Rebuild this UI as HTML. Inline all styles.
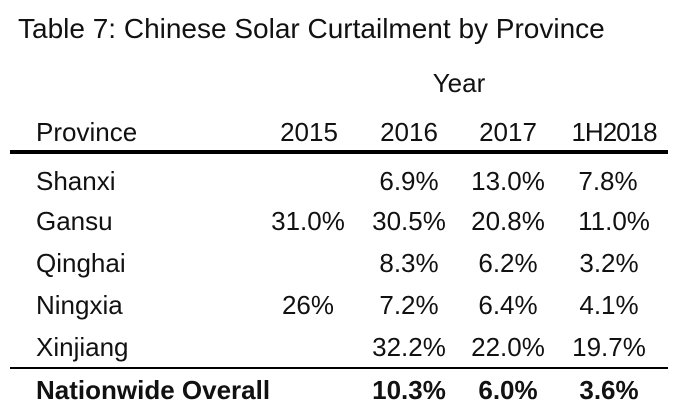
<!DOCTYPE html>
<html><head><meta charset="utf-8"><style>
html,body{margin:0;padding:0;background:#fff;}
body{width:678px;height:412px;position:relative;overflow:hidden;font-family:"Liberation Sans",sans-serif;color:#111;font-size:26px;}
.t{position:absolute;white-space:nowrap;line-height:1;}
.c{position:absolute;white-space:nowrap;line-height:1;transform:translateX(-50%);}
.b{font-weight:bold;}
.line{position:absolute;background:#000;left:10px;width:658px;}
</style></head><body>
<div class="t" style="left:18px;top:15px;font-size:28px;">Table 7: Chinese Solar Curtailment by Province</div>
<div class="c" style="left:459px;top:70px;">Year</div>
<div class="t" style="left:36px;top:119px;">Province</div>
<div class="c" style="left:309px;top:119px;">2015</div>
<div class="c" style="left:409px;top:119px;">2016</div>
<div class="c" style="left:508px;top:119px;">2017</div>
<div class="c" style="left:614px;top:119px;letter-spacing:-1px;">1H2018</div>
<div class="line" style="top:150px;height:4px;"></div>

<div class="t" style="left:36px;top:168px;">Shanxi</div>
<div class="c" style="left:409px;top:168px;">6.9%</div>
<div class="c" style="left:508px;top:168px;">13.0%</div>
<div class="c" style="left:608px;top:168px;">7.8%</div>

<div class="t" style="left:36px;top:208px;">Gansu</div>
<div class="c" style="left:308px;top:208px;">31.0%</div>
<div class="c" style="left:409px;top:208px;">30.5%</div>
<div class="c" style="left:508px;top:208px;">20.8%</div>
<div class="c" style="left:614px;top:208px;">11.0%</div>

<div class="t" style="left:36px;top:250px;">Qinghai</div>
<div class="c" style="left:409px;top:250px;">8.3%</div>
<div class="c" style="left:508px;top:250px;">6.2%</div>
<div class="c" style="left:609px;top:250px;">3.2%</div>

<div class="t" style="left:36px;top:292px;">Ningxia</div>
<div class="c" style="left:308px;top:292px;">26%</div>
<div class="c" style="left:409px;top:292px;">7.2%</div>
<div class="c" style="left:508px;top:292px;">6.4%</div>
<div class="c" style="left:609px;top:292px;">4.1%</div>

<div class="t" style="left:36px;top:334px;">Xinjiang</div>
<div class="c" style="left:409px;top:334px;">32.2%</div>
<div class="c" style="left:508px;top:334px;">22.0%</div>
<div class="c" style="left:609px;top:334px;">19.7%</div>
<div class="line" style="top:367px;height:2px;"></div>

<div class="t b" style="left:36px;top:377px;">Nationwide Overall</div>
<div class="c b" style="left:409px;top:377px;">10.3%</div>
<div class="c b" style="left:508px;top:377px;">6.0%</div>
<div class="c b" style="left:609px;top:377px;">3.6%</div>
</body></html>
